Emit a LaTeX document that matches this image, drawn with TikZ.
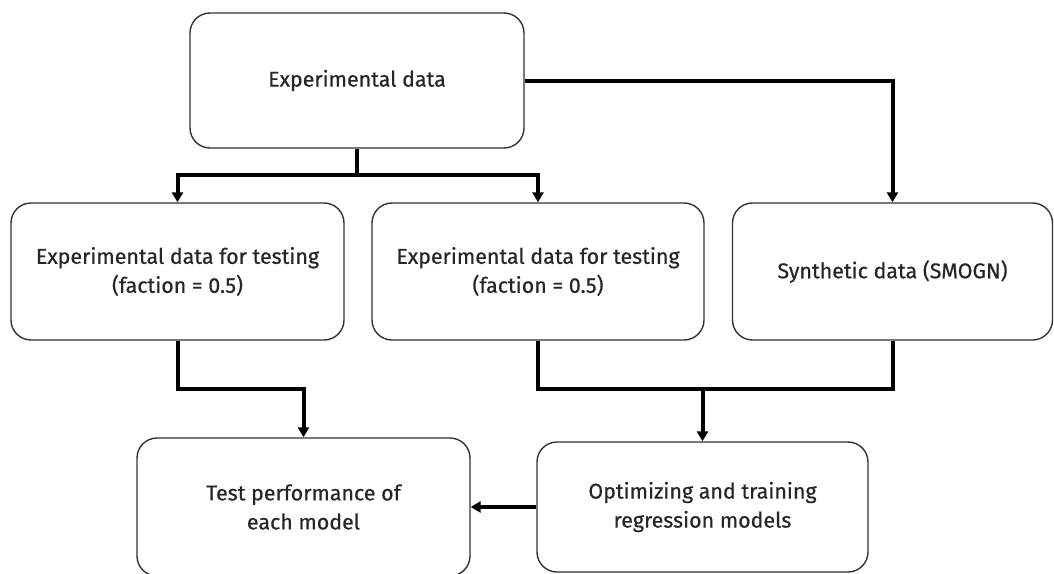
\documentclass[tikz,border=0pt]{standalone}
\usepackage{fontspec}
\setmainfont{Fira Sans}[UprightFeatures={FakeBold=0.6}]
\usetikzlibrary{arrows.meta}

\begin{document}
\begin{tikzpicture}[x=0.5pt, y=-0.5pt,
		box/.style={draw=black!80, line width=0.7pt, rounded corners=10pt, align=center, inner sep=0pt, text=black!85, font=\fontsize{10.7}{14.5}\selectfont},
		link/.style={line width=2pt, -{Triangle[length=5pt, width=5.5pt]}},
		wire/.style={line width=2pt}]
	\useasboundingbox (0,0) rectangle (1054,573);

	\node[box, minimum width=167pt, minimum height=67.5pt] (exp) at (357,80.5) {Experimental data};
	\node[box, minimum width=166.5pt, minimum height=68.5pt] (left) at (177.5,271.5) {Experimental data for testing\\(faction = 0.5)};
	\node[box, minimum width=166pt, minimum height=68.5pt] (mid) at (538,271.5) {Experimental data for testing\\(faction = 0.5)};
	\node[box, minimum width=160pt, minimum height=68.5pt] (synth) at (892.5,271.5) {Synthetic data (SMOGN)};
	\node[box, minimum width=166.5pt, minimum height=69pt] (test) at (303.5,507) {Test performance of\\each model};
	\node[box, minimum width=165.5pt, minimum height=65pt] (opt) at (702.5,507) {Optimizing and training\\regression models};

	\coordinate (split) at (357,175);
	\coordinate (merge) at (702.5,388);

	\draw[wire] (exp.south) -- (split);
	\foreach \b in {left,mid}
		\draw[link] (split) -| (\b.north);
	\draw[link] (exp.east) -| (synth.north);

	\draw[link] (left.south) -- ++(0,48) -| (test.north);
	\draw[wire] (mid.south) -- ++(0,48) -| (synth.south);
	\draw[link] (merge) -- (opt.north);
	\draw[link] (opt.west) -- (test.east);
\end{tikzpicture}
\end{document}
